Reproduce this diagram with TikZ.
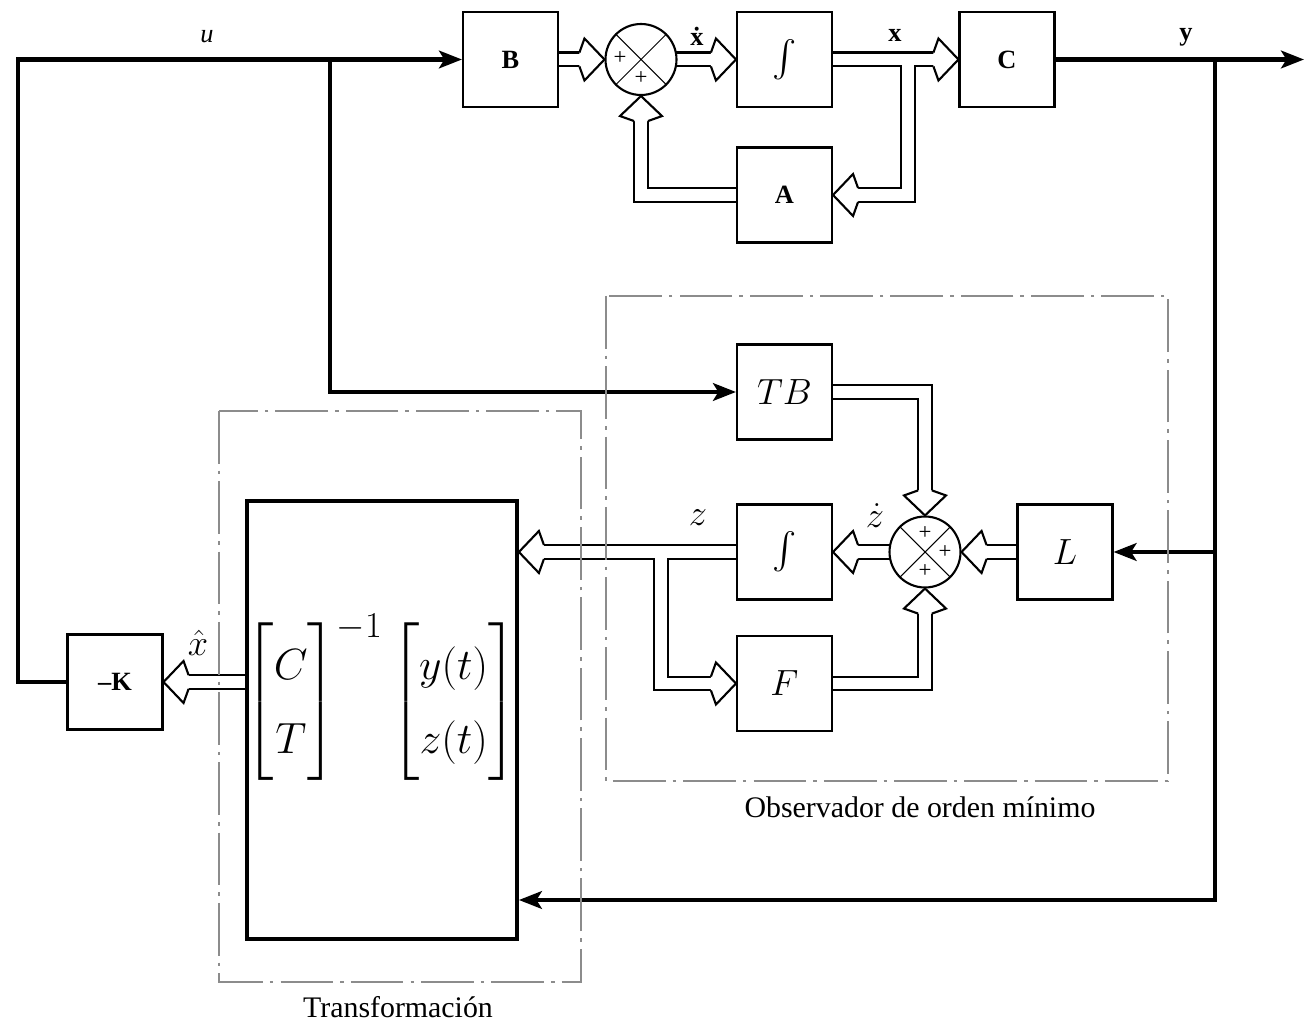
\documentclass[tikz,border=0pt]{standalone}
\usepackage{amsmath}
\usepackage{fontspec}
\setmainfont{Liberation Serif}
\usetikzlibrary{arrows.meta,backgrounds,calc}
\tikzset{
  blk/.style={draw, line width=1.2pt, fill=white, minimum width=1.9cm, minimum height=1.9cm, inner sep=0pt},
  sumc/.style={circle, draw, line width=1.2pt, fill=white, minimum size=1.42cm, inner sep=0pt},
  thk/.style={line width=2.6pt, line join=miter},
  tip/.style={-{Stealth[length=13pt,width=10pt,inset=3pt]}},
  dd/.style={draw=black!45, line width=1pt, dash pattern=on 30pt off 4pt on 2pt off 4pt},
  lbl/.style={font=\fontsize{15}{18}\selectfont\bfseries},
  capt/.style={font=\fontsize{17}{20}\selectfont, inner sep=0pt},
  mth/.style={font=\huge},
  sml/.style={font=\huge, inner sep=0pt},
  plus/.style={font=\fontsize{13}{13}\selectfont, inner sep=0pt},
  cross/.style={line width=0.6pt},
}
\newcommand\pah[2]{\draw[line width=1.2pt,fill=white,line join=miter,shift={(#1)},rotate=#2] (-25,7) -- (-20,21) -- (0,0) -- (-20,-21) -- (-25,-7);}
\newcommand\pipepaths{%
  \draw[pp] (B.east) -- (S1.west);
  \draw[pp] (S1.center) -- (I1.west);
  \draw[pp] (I1.east) -- (C.west);
  \draw[pp] (xb) |- (A.east);
  \draw[pp] (A.west) -| (S1.south);
  \draw[pp] (TB.east) -| (S2.north);
  \draw[pp] (L.west) -- (S2.east);
  \draw[pp] (S2.center) -- (I2.east);
  \draw[pp] (I2.west) -- (I2.west -| Tr.east);
  \draw[pp] (zb) |- (F.west);
  \draw[pp] (F.east) -| (S2.south);
  \draw[pp] (K.east -| Tr.west) -- (K.east);
}
\begin{document}
\begin{tikzpicture}[x=0.02cm,y=-0.02cm]
\useasboundingbox (0,0) rectangle (1308,1023);
% blocks
\node[blk,lbl] (B) at (510.5,59.5) {B};
\node[sumc] (S1) at (641,59.5) {};
\node[blk,font=\huge] (I1) at (784.5,59.5) {$\int$};
\node[blk,lbl] (C) at (1007,59.5) {C};
\node[blk,lbl] (A) at (784.5,195) {A};
\node[blk,mth] (TB) at (784.5,392) {$TB$};
\node[blk,font=\huge] (I2) at (784.5,552) {$\int$};
\node[blk,mth] (F) at (784.5,683.5) {$F$};
\node[sumc] (S2) at (925,552) {};
\node[blk,mth] (L) at (1065,552) {$L$};
\node[blk,lbl] (K) at (115,682) {–K};
\node[draw, line width=2.2pt, fill=white, minimum width=5.4cm, minimum height=8.76cm, inner sep=0pt] (Tr) at (382,720) {};
\node (M) at (381,697) {\Huge\renewcommand\arraystretch{1.4}\setlength\arraycolsep{7pt}$\begin{bmatrix}C\\T\end{bmatrix}^{-1}\begin{bmatrix}y(t)\\z(t)\end{bmatrix}$};
% summing junction marks
\draw[cross] (S1.north west) -- (S1.south east) (S1.north east) -- (S1.south west);
\draw[cross] (S2.north west) -- (S2.south east) (S2.north east) -- (S2.south west);
\node[plus] (p1) at ($(S1.center)+(-21,-1)$) {+};
\node[plus] (p2) at ($(S1.center)+(0,19)$) {+};
\node[plus] (p3) at ($(S2.center)+(0,-19)$) {+};
\node[plus] (p4) at ($(S2.center)+(20,0)$) {+};
\node[plus] (p5) at ($(S2.center)+(0,19)$) {+};
% coordinates
\coordinate (xb) at (908,59.5);
\coordinate (zb) at (661,552);
\coordinate (ul) at (18,59.5);
\coordinate (ub) at (330,59.5);
\coordinate (yb) at (1215,59.5);
\coordinate (yc) at (1215,900);
\coordinate (yo) at (1304,59.5);
% connectors
\begin{pgfonlayer}{background}
  \begin{scope}[pp/.style={line width=9.1pt, black, line join=miter, shorten >=9pt}]
    \pipepaths
  \end{scope}
  \begin{scope}[pp/.style={line width=6.8pt, white, line join=miter, shorten >=9pt}]
    \pipepaths
  \end{scope}
  \draw[thk,tip] (K.west) -| (ul) -- (B.west);
  \draw[thk,tip] (ub) |- (TB.west);
  \draw[thk,tip] (C.east) -- (yo);
  \draw[thk,tip] (yb) -- (yc) -- (yc -| Tr.east);
  \draw[thk,tip] (yb |- L.east) -- (L.east);
\end{pgfonlayer}
% pipe arrowheads
\pah{S1.west}{0}
\pah{I1.west}{0}
\pah{C.west}{0}
\pah{A.east}{180}
\pah{S1.south}{90}
\pah{S2.north}{-90}
\pah{S2.east}{180}
\pah{I2.east}{180}
\pah{I2.west -| Tr.east}{180}
\pah{F.west}{0}
\pah{S2.south}{90}
\pah{K.east}{180}
% dash-dot frames
\draw[dd] (606,296) rectangle (1168,781);
\draw[dd] (219,411) rectangle (581,982);
% labels
\node[font=\fontsize{15}{18}\selectfont\itshape] (lu) at (207,37) {u};
\node[lbl] (lxd) at (697,36) {\.{x}};
\node[lbl] (lx) at (895,35) {x};
\node[lbl] (ly) at (1186,37) {y};
\node[sml] (lz) at (698,518) {$z$};
\node[sml] (lzd) at (875,516) {$\dot z$};
\node[sml] (lxh) at (198,643) {$\hat x$};
\node[capt] (lobs) at (920,807) {Observador de orden mínimo};
\node[capt] (ltr) at (398,1007) {Transformación};
\end{tikzpicture}
\end{document}
